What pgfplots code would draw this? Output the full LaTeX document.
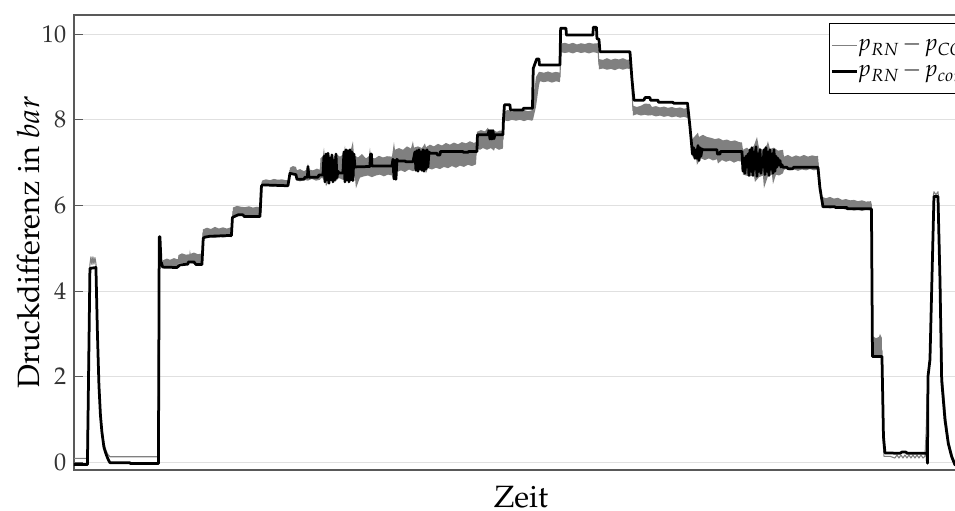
\documentclass[border=0pt]{standalone}
\usepackage[T1]{fontenc}
\usepackage{mathpazo}
\usepackage{pgfplots}
\pgfplotsset{compat=1.18}
\definecolor{lgray}{HTML}{808080}
\begin{document}
\begin{tikzpicture}
\begin{axis}[
  width=406.3pt, height=206.8pt, scale only axis,
  xmin=74, xmax=968, ymin=-0.18, ymax=10.45,
  xtick=\empty, ytick={0,2,4,6,8,10},
  ymajorgrids, grid style={color=black!12, line width=0.5pt},
  tick align=inside, major tick length=4pt,
  tick style={color=black!65, line width=0.5pt},
  axis line style={color=black!65, line width=0.6pt},
  yticklabel style={font=\fontsize{11}{13}\selectfont, color=black!80},
  ylabel={Druckdifferenz in $bar$}, xlabel={Zeit},
  ylabel style={font=\fontsize{14}{16}\selectfont, at={(axis description cs:-0.051,0.5)}, anchor=center},
  xlabel style={font=\fontsize{14}{16}\selectfont, at={(axis description cs:0.5,-0.083)}, anchor=base},
  legend style={at={(axis cs:829,10.26)}, anchor=north west, draw=black, line width=0.5pt,
    font=\fontsize{10.5}{12}\selectfont, inner xsep=0.5pt, inner ysep=4pt, row sep=0pt,
    cells={anchor=west, inner xsep=0.8pt}},
  legend image code/.code={\draw[#1] (0pt,0pt) -- (11.5pt,0pt);},
]
\coordinate (BL) at (rel axis cs:0,0);
% gray noise band
\addplot[forget plot, draw=none, fill=lgray] coordinates {
(163,4.72)(167,4.76)(170,4.73)(174,4.77)(178,4.74)
(178.5,4.84)(182,4.88)(186,4.85)(189.5,4.86)(190,4.97)(190.5,4.87)(194,4.9)(198,4.86)(202,4.88)
(203,5.44)(207,5.48)(211,5.45)(215,5.5)(219,5.46)(223,5.49)(227,5.46)(232,5.5)
(233,5.95)(237,5.99)(241,5.97)(245,5.96)(249,5.98)(253,5.95)(257,5.97)(261,5.96)
(262,6.58)(266,6.61)(270,6.59)(274,6.62)(278,6.6)(282,6.61)(286,6.59)(289,6.6)
(290,6.88)(293,6.92)(296,6.9)
(297,6.82)(300,6.85)(304,6.8)(307,6.84)(308,6.98)(309,6.84)(313,6.82)(317,6.86)(320,6.83)
(320.5,7.1)(323,7.15)(324,7.35)(325,7.12)(329,7.18)(333,7.1)(336,7.2)(340,7.14)(344,7.2)(345,7.4)(346,7.15)(350,7.22)(353,7.5)(354,7.18)(358,7.12)(362,7.2)(366,7.1)(369,7.15)(370,7.35)(371,7.12)(375,7.1)(379,7.16)(383,7.12)(387,7.15)(392,7.14)
(393,7.3)(394,7.48)(395,7.3)(399,7.34)(403,7.3)(407,7.38)(411,7.33)(413,7.5)(414,7.35)(418,7.38)(422,7.34)(425,7.45)(426,7.36)(430,7.42)(434,7.38)(438,7.44)(442,7.4)(446,7.46)(450,7.42)(454,7.47)(458,7.43)(462,7.48)(466,7.45)(470,7.5)(474,7.46)(476,7.48)
(477,7.72)(481,7.76)(485,7.73)(488,7.82)(489,7.74)(493,7.76)(497,7.72)(500,7.75)(503,7.73)
(504,8.2)(508,8.23)(512,8.19)(516,8.22)(520,8.2)(524,8.23)(528,8.2)(532,8.22)
(533,8.4)(536,9.0)(539,9.12)
(540,9.12)(544,9.1)(548,9.13)(552,9.1)(556,9.12)(560,9.1)
(561,9.78)(565,9.8)(569,9.77)(573,9.8)(577,9.76)(581,9.79)(585,9.77)(589,9.8)(593,9.78)(598,9.79)
(599,9.42)(603,9.4)(607,9.44)(611,9.4)(615,9.43)(619,9.41)(623,9.44)(627,9.4)(631,9.42)
(633,8.33)(637,8.3)(641,8.33)(645,8.38)(650,8.37)(652,8.3)(656,8.32)(660,8.29)(664,8.31)(668,8.28)(672,8.3)(676,8.27)(680,8.29)(684,8.26)(688,8.28)
(690,7.9)(692,7.6)
(692,7.55)(695,7.62)(698,7.7)(699,7.6)(703,7.65)(707,7.6)(711,7.58)(715,7.55)(719,7.57)(723,7.52)(727,7.54)(731,7.5)(735,7.52)(739,7.48)(742,7.47)
(743,7.3)(747,7.35)(750,7.28)(754,7.4)(757,7.6)(759,7.35)(763,7.3)(767,7.42)(768,7.5)(770,7.32)(774,7.35)(778,7.28)(783,7.3)
(784,7.14)(788,7.18)(792,7.13)(796,7.17)(800,7.14)(804,7.18)(808,7.14)(812,7.17)(816,7.15)(818,7.16)
(820,6.6)(822,6.2)
(826,6.17)(830,6.2)(834,6.16)(838,6.18)(842,6.13)(846,6.15)(850,6.12)(854,6.13)(858,6.1)(862,6.12)(866,6.09)(871,6.1)
(872,6.0)(872.5,2.95)(876,2.9)(879,2.93)(880,3.0)(882,2.9)
(882,2.45)(872.5,2.45)
(871,5.88)(866,5.9)(862,5.87)(858,5.9)(854,5.88)(850,5.91)(846,5.9)(842,5.93)(838,5.92)(834,5.95)(830,5.93)(826,5.96)(822,5.94)
(821,6.3)(819,6.7)
(818,6.84)(814,6.82)(810,6.85)(806,6.82)(802,6.84)(798,6.81)(794,6.84)(790,6.82)(786,6.85)(784,6.83)
(783,6.75)(779,6.7)(776,6.72)(773,6.5)(772,6.72)(768,6.68)(764,6.4)(763,6.7)(759,6.66)(755,6.55)(754,6.7)(750,6.68)(746,6.7)(743,6.72)
(742,7.02)(738,7.04)(734,7.0)(730,7.05)(726,7.02)(722,7.06)(718,6.98)(717,7.08)(713,7.05)(709,7.1)(705,7.06)(701,7.1)(697,6.95)(696,7.12)(692,7.15)
(690,7.8)(689,8.0)
(688,8.04)(684,8.07)(680,8.05)(676,8.08)(672,8.06)(668,8.09)(664,8.07)(660,8.1)(656,8.08)(652,8.11)(648,8.1)(645,8.12)(641,8.1)(637,8.13)(633,8.1)
(632,8.9)(631.5,9.2)
(631,9.18)(627,9.2)(623,9.17)(619,9.2)(615,9.16)(611,9.19)(607,9.17)(603,9.2)(599,9.18)
(598,9.56)(593,9.58)(589,9.55)(585,9.58)(581,9.56)(577,9.59)(573,9.55)(569,9.58)(565,9.56)(561,9.58)
(560,8.88)(556,8.9)(552,8.87)(548,8.9)(544,8.88)(540,8.9)
(539,8.8)(536,8.3)(533,8.0)
(532,7.98)(528,8.0)(524,7.97)(520,8.0)(516,7.98)(512,8.0)(508,7.97)(504,7.99)
(503,7.33)(499,7.3)(495,7.35)(494,7.28)(491,7.34)(487,7.3)(483,7.34)(480,7.3)(477,7.33)
(476,6.96)(472,6.92)(468,6.95)(464,6.9)(460,6.93)(456,6.88)(452,6.92)(448,6.87)(444,6.9)(440,6.85)(436,6.88)(432,6.84)(428,6.87)(426,6.75)(425,6.86)(421,6.82)(417,6.85)(413,6.8)(409,6.84)(405,6.78)(401,6.82)(397,6.78)(396,6.62)(395,6.8)(393,6.78)
(392,6.7)(388,6.72)(384,6.68)(380,6.72)(376,6.7)(372,6.66)(368,6.7)(364,6.68)(360,6.65)(356,6.4)(355,6.66)(351,6.62)(347,6.65)(343,6.6)(339,6.64)(335,6.55)(334,6.62)(330,6.6)(326,6.45)(325,6.62)(321,6.64)(320.5,6.62)
(320,6.6)(316,6.58)(312,6.62)(308,6.58)(304,6.6)(300,6.56)(297,6.6)
(296,6.74)(293,6.72)(290,6.75)
(289,6.46)(285,6.47)(281,6.45)(277,6.47)(273,6.44)(269,6.46)(265,6.45)(262,6.47)
(261,5.74)(257,5.76)(253,5.73)(249,5.75)(245,5.72)(241,5.76)(237,5.74)(233,5.76)
(232,5.26)(227,5.27)(223,5.25)(219,5.27)(215,5.24)(211,5.27)(207,5.25)(203,5.27)
(202,4.64)(198,4.66)(194,4.64)(190,4.66)(186,4.63)(182,4.66)(178.5,4.64)
(178,4.58)(174,4.57)(170,4.59)(166,4.57)(163,4.58)
} -- cycle;
% p_RN - p_CO
\addplot[color=lgray, line width=0.5pt, line join=round] coordinates {
(74,0.09)(87,0.09)(88.5,2.5)(90,4.62)(91,4.8)(92,4.62)(93,4.8)(94,4.63)(95,4.78)(96,4.65)
(97.5,3.1)(99,1.9)(100.5,1.2)(102,0.78)(104,0.45)(106,0.28)(108,0.18)(110,0.13)(158,0.13)
(159.3,5.2)(160.5,4.7)(163,4.66)(178,4.66)(178.5,4.75)(202,4.75)(203,5.36)(232,5.36)(233,5.86)
(261,5.86)(262,6.53)(289,6.53)(290,6.82)(296,6.82)(297,6.72)(320,6.72)(320.5,6.88)(392,6.9)
(393,6.98)(476,7.2)(477,7.55)(503,7.55)(504,8.1)(532,8.1)(533,8.6)(540,9.0)(560,9.0)(561,9.68)
(598,9.68)(599,9.3)(631,9.3)(633,8.22)(688,8.15)(692,7.4)(742,7.2)(743,7.0)(783,7.0)(784,6.98)
(818,6.98)(822,6.07)(871,5.98)(872.5,2.7)(876,2.6)(879,2.8)(882,2.6)(883,0.6)(884,0.14)(890,0.14)
(895,0.1)(897,0.17)(899,0.1)(901,0.17)(903,0.1)(905,0.17)(907,0.1)(909,0.17)(911,0.1)(913,0.17)
(915,0.1)(917,0.17)(919,0.1)(921,0.17)(923,0.1)(925,0.14)(926,0.6)(928,2.0)(930,2.45)(933.5,6.25)
(934,6.32)(936,6.25)(938,6.32)(938.5,6.2)(940.5,4.3)(942.5,1.95)(946,1.0)(949,0.45)(952.5,0.14)
(956,-0.05)(968,-0.05)
};
\addlegendentry{\hspace*{-2.5pt}$p_{RN}\mkern2mu{-}\mkern2mu p_{CO}$}
% p_RN - p_con.2
\addplot[color=black, line width=1.25pt, line join=round] coordinates {
(74,-0.05)(87.5,-0.05)(90,4.53)(96,4.55)(97.5,3.0)(99,1.8)(100.5,1.1)(102,0.7)(104,0.35)(106,0.2)
(108,0.08)(110,-0.01)(130,-0.01)(130.5,-0.03)(158.5,-0.03)(159.3,5.27)(160,5.27)(161,4.7)(162.7,4.56)
(177,4.55)(180,4.61)(188,4.63)(188.5,4.68)(194,4.68)(196,4.62)(202,4.62)(203.3,5.23)(205,5.26)
(210,5.28)(231.5,5.3)(232.5,5.72)(238,5.78)(243,5.78)(244.5,5.74)(260,5.74)(261.5,6.45)(262.5,6.48)
(288,6.46)(290,6.75)(296,6.72)(297,6.61)(304,6.61)(305,6.66)(307.5,6.66)(308,6.91)(309,6.66)(318,6.66)
(319,6.71)(323,6.71)
(324,7.15)(325,6.55)(326,7.2)(327,6.6)(328,7.22)(329,6.52)(330,7.1)(331,6.6)(332,7.18)(333,6.55)
(334,7.05)(335,6.6)(336,7.2)(337,6.65)(338,6.8)(339,6.76)(343,6.76)
(344,7.25)(345,6.55)(346,7.3)(347,6.6)(348,7.28)(349,6.55)(350,7.3)(351,6.6)(352,7.25)(353,6.58)
(354,7.2)(355,6.9)(370,6.91)(370.5,7.2)(371.5,7.2)(372,6.92)(392,6.92)
(393,7.08)(394,6.62)(395,7.05)(396,6.61)(397,7.08)(398,7.04)(405,7.04)(406,7.02)(413,7.02)
(415,7.25)(416,6.82)(417,7.28)(418,6.8)(419,7.3)(420,6.85)(421,7.25)(422,6.82)(423,7.3)(424,6.8)
(425,7.28)(426,6.85)(427,7.3)(428,6.9)(429,7.25)(430,7.22)(437,7.22)(437.5,7.18)(440,7.18)
(440.5,7.26)(463,7.26)(463.5,7.24)(468,7.24)(468.5,7.26)(477,7.26)(477.5,7.65)(488,7.65)
(489,7.75)(490,7.55)(491,7.75)(492,7.55)(493,7.75)(494,7.56)(495,7.65)(503,7.65)(503.5,8.0)
(504.5,8.35)(510,8.35)(510.5,8.23)(523,8.23)(523.5,8.27)(532.5,8.27)(533.3,9.2)(536.7,9.42)
(539,9.42)(539.5,9.28)(560,9.28)(560.7,10.14)(566,10.14)(566.5,9.98)(593,9.98)(593.3,10.16)
(596.5,10.16)(597,9.9)(599,9.88)(600,9.59)(630,9.59)(632,8.95)(634,8.46)(644,8.46)(645,8.52)
(650,8.52)(650.5,8.46)(658,8.46)(658.5,8.41)(673,8.41)(673.5,8.39)(687.5,8.39)(690,7.84)
(692.5,7.2)(693.5,7.35)(695,7.1)
(696,7.3)(697,7.1)(698,7.4)(699,7.05)(700,7.35)(701,7.15)(702,7.32)(703,7.3)(717,7.3)(717.5,7.2)
(720,7.2)(720.5,7.26)(742,7.26)
(743,6.8)(744,7.1)(745,6.75)(746,7.15)(747,6.9)(748,7.2)(749,6.7)(750,7.3)(751,6.8)(752,7.35)
(753,6.7)(754,7.25)(755,6.85)(756,7.37)(757,6.68)(758,7.2)(759,6.8)(760,7.3)(761,6.75)(762,7.1)
(763,6.9)(764,7.3)(765,6.72)(766,7.35)(767,6.8)(768,7.25)(769,6.7)(770,7.3)(771,6.85)(772,7.2)
(773,6.75)(774,7.3)(775,6.8)(776,7.15)(777,6.9)(778,7.1)(779,6.95)(780,7.05)(781,6.9)(782,6.95)
(783,6.89)(787,6.89)(788,6.86)(793,6.86)(793.5,6.89)(818,6.89)(820,6.4)(823,5.97)(835,5.97)
(835.5,5.95)(847,5.95)(847.5,5.92)(871.5,5.92)(872.5,2.47)(882,2.47)(883.5,0.6)(885,0.22)
(900,0.21)(902,0.24)(906,0.24)(907,0.21)(927,0.21)(927.5,-0.02)(928,2.0)(930,2.4)(934,6.21)
(938,6.21)(940,4.26)(941.7,1.92)(945,0.99)(948.3,0.44)(951.7,0.13)(955,-0.06)(968,-0.06)
};
\addlegendentry{\hspace*{-2.5pt}$p_{RN}\mkern2mu{-}\mkern2mu p_{con.2}$}
\end{axis}
\pgfresetboundingbox
\path[use as bounding box] ([shift={(-33.6pt,-18.2pt)}]BL) rectangle ([shift={(400.4pt,213.6pt)}]BL);
\end{tikzpicture}
\end{document}
